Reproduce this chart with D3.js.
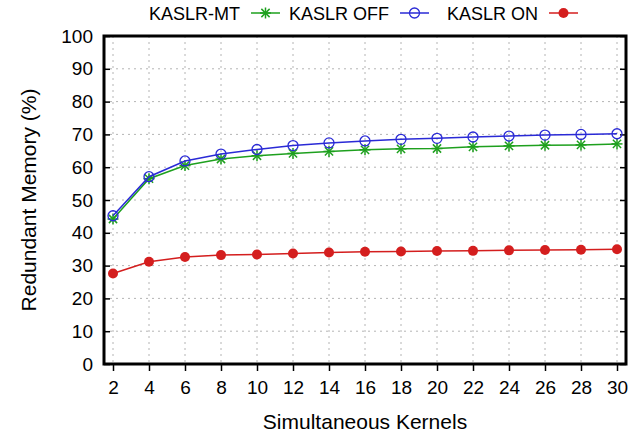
<!DOCTYPE html>
<html><head><meta charset="utf-8">
<script src="https://cdn.jsdelivr.net/npm/d3@7"></script>
<style>body{margin:0;background:#fff}svg{display:block}text{font-family:"Liberation Sans",Arial,sans-serif;fill:#000}</style>
</head><body><svg id="c" width="644" height="436"></svg>
<script>
const kernels = [2,4,6,8,10,12,14,16,18,20,22,24,26,28,30];
const kaslrMT  = [44.2,56.5,60.5,62.5,63.5,64.2,64.8,65.3,65.6,65.7,66.2,66.5,66.7,66.8,67.1];
const kaslrOff = [45.2,57.1,61.9,64.0,65.4,66.6,67.4,68.0,68.5,68.8,69.2,69.5,69.8,70.0,70.2];
const kaslrOn  = [27.6,31.2,32.6,33.2,33.4,33.7,34.0,34.2,34.3,34.45,34.5,34.65,34.75,34.85,35.0];
const yTicks = [0,10,20,30,40,50,60,70,80,90,100];
const seriesNames = ["KASLR-MT","KASLR OFF","KASLR ON"];

const svg = d3.select("#c");
const L=104,R=626,T=36,B=364;
const x = d3.scaleLinear().domain([1.5,30.5]).range([L,R]);
const y = d3.scaleLinear().domain([0,100]).range([B,T]);

// grid
const g = svg.append("g");
g.selectAll(".gx").data(kernels).enter().append("line")
  .attr("x1",d=>x(d)).attr("x2",d=>x(d)).attr("y1",T).attr("y2",B)
  .attr("stroke","#b4b4b4").attr("stroke-width",1).attr("stroke-dasharray","2,4");
g.selectAll(".gy").data(yTicks.slice(1,-1)).enter().append("line")
  .attr("x1",L).attr("x2",R).attr("y1",d=>y(d)).attr("y2",d=>y(d))
  .attr("stroke","#b4b4b4").attr("stroke-width",1).attr("stroke-dasharray","2,4");

// axes
const fs = "19px";
const yAxisL = d3.axisLeft(y).tickValues(yTicks).tickSize(-6).tickPadding(11);
const gl = svg.append("g").attr("transform",`translate(${L},0)`).call(yAxisL);
gl.select(".domain").remove();
gl.selectAll("line").attr("stroke","#000").attr("stroke-width",1.5);
gl.selectAll("text").style("font-size",fs).attr("font-family","Liberation Sans, Arial, sans-serif");
const yAxisR = d3.axisRight(y).tickValues(yTicks).tickSize(-6).tickFormat("");
const gr = svg.append("g").attr("transform",`translate(${R},0)`).call(yAxisR);
gr.select(".domain").remove();
gr.selectAll("line").attr("stroke","#000").attr("stroke-width",1.5);
const xAxis = d3.axisBottom(x).tickValues(kernels).tickSize(7).tickPadding(10);
const gb = svg.append("g").attr("transform",`translate(0,${B})`).call(xAxis);
gb.select(".domain").remove();
gb.selectAll("line").attr("stroke","#000").attr("stroke-width",1.5);
gb.selectAll("text").style("font-size",fs).attr("font-family","Liberation Sans, Arial, sans-serif");

// frame
svg.append("rect").attr("x",L).attr("y",T).attr("width",R-L).attr("height",B-T)
  .attr("fill","none").attr("stroke","#000").attr("stroke-width",3);

const colors = ["#1ea01e","#2a2ad6","#d41e1e"];
const data = [kaslrMT,kaslrOff,kaslrOn];
const line = d3.line().x((d,i)=>x(kernels[i])).y(d=>y(d));

function star(sel,cx,cy,col){
  const s=5.5, d=s*0.75;
  const p = sel.append("g").attr("stroke",col).attr("stroke-width",1.5);
  p.append("line").attr("x1",cx-s).attr("x2",cx+s).attr("y1",cy).attr("y2",cy);
  p.append("line").attr("x1",cx).attr("x2",cx).attr("y1",cy-s).attr("y2",cy+s);
  p.append("line").attr("x1",cx-d).attr("x2",cx+d).attr("y1",cy-d).attr("y2",cy+d);
  p.append("line").attr("x1",cx-d).attr("x2",cx+d).attr("y1",cy+d).attr("y2",cy-d);
}
function marker(sel,k,cx,cy){
  if(k===0) star(sel,cx,cy,colors[0]);
  else if(k===1) sel.append("circle").attr("cx",cx).attr("cy",cy).attr("r",5).attr("fill","none").attr("stroke",colors[1]).attr("stroke-width",1.3);
  else sel.append("circle").attr("cx",cx).attr("cy",cy).attr("r",5).attr("fill",colors[2]);
}
data.forEach((vals,k)=>{
  svg.append("path").datum(vals).attr("d",line).attr("fill","none").attr("stroke",colors[k]).attr("stroke-width",1.5);
  const mg = svg.append("g");
  vals.forEach((v,i)=>marker(mg,k,x(kernels[i]),y(v)));
});

// legend
const lg = svg.append("g");
seriesNames.forEach((n,k)=>{
  const tx = 240 + k*149;
  lg.append("text").attr("x",tx).attr("y",20).attr("text-anchor","end").style("font-size","18px").text(n);
  lg.append("line").attr("x1",tx+11).attr("x2",tx+40).attr("y1",13).attr("y2",13).attr("stroke",colors[k]).attr("stroke-width",1.5);
  marker(lg,k,tx+25.5,13);
});

// axis titles
svg.append("text").attr("x",(L+R)/2).attr("y",429).attr("text-anchor","middle").style("font-size","21px").text("Simultaneous Kernels");
svg.append("text").attr("transform",`translate(36,${(T+B)/2}) rotate(-90)`).attr("text-anchor","middle").style("font-size","21px").text("Redundant Memory (%)");
</script></body></html>
